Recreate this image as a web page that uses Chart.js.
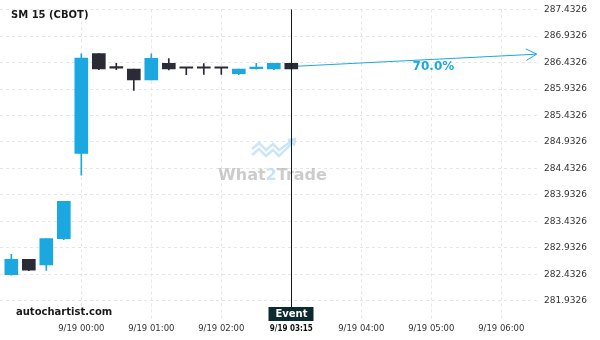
<!DOCTYPE html>
<html lang="en">
<head>
    <meta charset="UTF-8">
    <title>SM 15 (CBOT)</title>
    <script src="https://cdn.jsdelivr.net/npm/chart.js"></script>
    <style>
        html, body { margin: 0; padding: 0; background: #fff; }
        .chart-box { position: relative; width: 600px; height: 340px; }
    </style>
</head>
<body>
    <div class="chart-box">
        <canvas id="candleChart" width="600" height="340"></canvas>
    </div>

    <script>
        // 15 minute candles, time in minutes from 9/19 00:00
        const times = [-60, -45, -30, -15, 0, 15, 30, 45, 60, 75, 90, 105, 120, 135, 150, 165, 180];
        const opens  = [282.425, 282.716, 282.610, 283.105, 284.716, 286.605, 286.330, 286.309, 286.105, 286.420, 286.330, 286.330, 286.330, 286.222, 286.318, 286.314, 286.420];
        const highs  = [282.809, 282.716, 283.105, 283.810, 286.599, 286.605, 286.420, 286.310, 286.599, 286.507, 286.330, 286.414, 286.330, 286.309, 286.420, 286.420, 286.420];
        const lows   = [282.414, 282.500, 282.506, 283.086, 284.303, 286.300, 286.300, 285.907, 286.105, 286.296, 286.203, 286.210, 286.210, 286.203, 286.309, 286.300, 286.314];
        const closes = [282.716, 282.512, 283.105, 283.810, 286.518, 286.314, 286.327, 286.105, 286.512, 286.314, 286.325, 286.325, 286.325, 286.309, 286.322, 286.420, 286.314];
        const upFlags = [true, false, true, true, true, false, false, false, true, false, false, false, false, true, true, true, false];

        const xTicks = [0, 60, 120, 180, 240, 300, 360];
        const xTickLabels = ['9/19 00:00', '9/19 01:00', '9/19 02:00', '9/19 03:15', '9/19 04:00', '9/19 05:00', '9/19 06:00'];
        const yTicks = [281.9326, 282.4326, 282.9326, 283.4326, 283.9326, 284.4326, 284.9326, 285.4326, 285.9326, 286.4326, 286.9326, 287.4326];

        const eventTime = 180;
        const arrowX = [184.6, 390.3];
        const arrowY = [286.364, 286.592];
        const arrowLabel = '70.0%';

        const BLUE = '#1ba8e1';
        const DARK = '#2b2b37';
        const candleColors = upFlags.map(u => u ? BLUE : DARK);

        const isEvent = c => !!(c && c.tick && c.tick.value === eventTime);

        const overlayPlugin = {
            id: 'overlay',
            beforeDatasetsDraw(chart) {
                const c = chart.ctx;
                // watermark logo (zigzag with arrow)
                c.save();
                c.strokeStyle = 'rgba(160, 212, 240, 0.55)';
                c.lineWidth = 2.5;
                c.lineJoin = 'miter';
                [0, 6].forEach(off => {
                    c.beginPath();
                    c.moveTo(252, 149 + off);
                    c.lineTo(259, 143 + off);
                    c.lineTo(266, 150 + off);
                    c.lineTo(273, 144 + off);
                    c.lineTo(279, 150 + off);
                    c.lineTo(293, 140 + off * 0.4);
                    c.stroke();
                });
                c.beginPath();
                c.moveTo(288, 140);
                c.lineTo(295, 139);
                c.lineTo(294, 146);
                c.stroke();
                c.font = 'bold 16px "DejaVu Sans"';
                c.textBaseline = 'alphabetic';
                c.textAlign = 'left';
                const parts = [['What', 'rgba(170,170,170,0.6)'], ['2', 'rgba(150,205,235,0.55)'], ['Trade', 'rgba(170,170,170,0.6)']];
                let total = parts.reduce((s, p) => s + c.measureText(p[0]).width, 0);
                let tx = 272.5 - total / 2;
                parts.forEach(p => {
                    c.fillStyle = p[1];
                    c.fillText(p[0], tx, 180);
                    tx += c.measureText(p[0]).width;
                });
                c.restore();
            },
            afterDraw(chart) {
                const c = chart.ctx;
                const xs = chart.scales.x, ys = chart.scales.y;
                const area = chart.chartArea;
                c.save();

                // event line + box
                const ex = Math.round(xs.getPixelForValue(eventTime)) + 0.5;
                c.strokeStyle = '#101a1c';
                c.lineWidth = 1;
                c.beginPath();
                c.moveTo(ex, area.top);
                c.lineTo(ex, 307);
                c.stroke();
                c.fillStyle = '#0c2a2f';
                c.fillRect(ex - 23, 307, 45, 14);
                c.fillStyle = '#fff';
                c.font = 'bold 10px "DejaVu Sans"';
                c.textAlign = 'center';
                c.textBaseline = 'middle';
                c.fillText('Event', ex, 314.5);

                // arrow head
                const x1 = xs.getPixelForValue(arrowX[0]), y1 = ys.getPixelForValue(arrowY[0]);
                const x2 = xs.getPixelForValue(arrowX[1]), y2 = ys.getPixelForValue(arrowY[1]);
                const ang = Math.atan2(y2 - y1, x2 - x1);
                c.strokeStyle = BLUE;
                c.beginPath();
                c.moveTo(x2 - 12 * Math.cos(ang - 0.5), y2 - 12 * Math.sin(ang - 0.5));
                c.lineTo(x2, y2);
                c.lineTo(x2 - 12 * Math.cos(ang + 0.5), y2 - 12 * Math.sin(ang + 0.5));
                c.stroke();

                // probability label
                const lx = x1 + (x2 - x1) * 0.57;
                const ly = y1 + (y2 - y1) * 0.57 + 8;
                c.fillStyle = BLUE;
                c.font = 'bold 12px "DejaVu Sans"';
                c.fillText(arrowLabel, lx, ly);

                // titles
                c.fillStyle = '#1a1a1a';
                c.textAlign = 'left';
                c.textBaseline = 'alphabetic';
                c.font = 'bold 10px "DejaVu Sans"';
                c.fillText('SM 15 (CBOT)', 11, 18);
                c.fillText('autochartist.com', 16, 314.5);
                c.restore();
            }
        };

        const ctx = document.getElementById('candleChart').getContext('2d');
        const candleChart = new Chart(ctx, {
            type: 'bar',
            data: {
                datasets: [
                    {
                        label: 'body',
                        order: 0,
                        data: times.map((t, i) => ({ x: t, y: [opens[i], closes[i]] })),
                        backgroundColor: candleColors,
                        barThickness: 13,
                        minBarLength: 1.5,
                        grouped: false
                    },
                    {
                        label: 'wick',
                        order: 1,
                        data: times.map((t, i) => ({ x: t, y: [lows[i], highs[i]] })),
                        backgroundColor: candleColors,
                        barThickness: 1,
                        grouped: false
                    },
                    {
                        type: 'line',
                        label: 'forecast',
                        order: 2,
                        data: arrowX.map((x, i) => ({ x: x, y: arrowY[i] })),
                        borderColor: BLUE,
                        borderWidth: 1,
                        pointRadius: 0,
                        fill: false
                    }
                ]
            },
            plugins: [overlayPlugin],
            options: {
                responsive: false,
                animation: false,
                layout: { padding: { top: 3, left: 0, right: 0, bottom: 0 } },
                plugins: {
                    legend: { display: false },
                    tooltip: { enabled: false }
                },
                scales: {
                    x: {
                        type: 'linear',
                        offset: false,
                        min: -69.7,
                        max: 393.2,
                        afterBuildTicks: axis => { axis.ticks = xTicks.map(v => ({ value: v })); },
                        afterFit: axis => { axis.height = 20; },
                        grid: {
                            offset: false,
                            drawTicks: false,
                            color: c => isEvent(c) ? 'rgba(0,0,0,0)' : '#e6e6e6'
                        },
                        border: { display: false, dash: [3, 3] },
                        ticks: {
                            padding: 4,
                            maxRotation: 0,
                            autoSkip: false,
                            color: c => isEvent(c) ? '#111' : '#333',
                            font: c => isEvent(c)
                                ? { family: 'DejaVu Sans Condensed', size: 8, weight: 'bold' }
                                : { family: 'DejaVu Sans', size: 8.5 },
                            callback: v => xTickLabels[xTicks.indexOf(v)]
                        }
                    },
                    y: {
                        position: 'right',
                        min: 281.568,
                        max: 287.438,
                        afterBuildTicks: axis => { axis.ticks = yTicks.map(v => ({ value: v })); },
                        afterFit: axis => { axis.width = 60; },
                        grid: { drawTicks: false, color: '#e6e6e6' },
                        border: { display: false, dash: [3, 3] },
                        ticks: {
                            padding: 4,
                            color: '#333',
                            font: { family: 'DejaVu Sans', size: 9 },
                            callback: v => v.toFixed(4)
                        }
                    }
                }
            }
        });
    </script>
</body>
</html>
